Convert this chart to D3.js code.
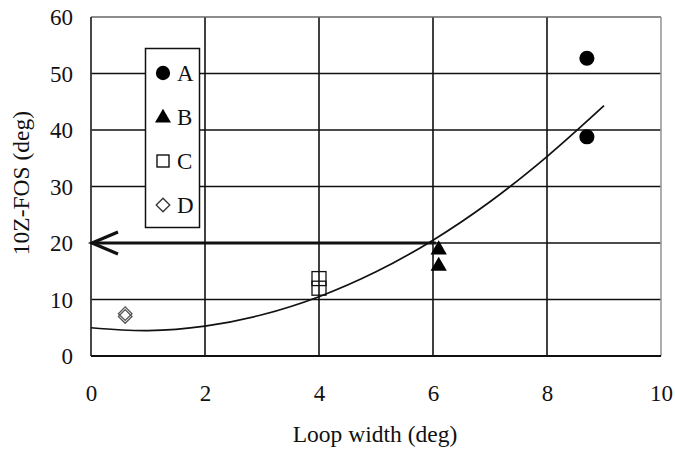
<!DOCTYPE html>
<html>
<head>
<meta charset="utf-8">
<script src="https://cdn.jsdelivr.net/npm/d3@7"></script>
<style>
  html, body { margin: 0; padding: 0; background: #fff; }
  text { font-family: "Liberation Serif", "Times New Roman", serif; fill: #111; }
</style>
</head>
<body>
<svg id="chart" width="675" height="454"></svg>
<script>
// Axis ticks
const xTicks = [0, 2, 4, 6, 8, 10];
const yTicks = [0, 10, 20, 30, 40, 50, 60];

// Measurements per group: [loop width, 10Z-FOS]
const seriesA = [[8.7, 52.7], [8.7, 38.8]];
const seriesB = [[6.1, 18.8], [6.1, 15.9]];
const seriesC = [[4.0, 13.7], [4.0, 12.0]];
const seriesD = [[0.6, 7.0], [0.6, 7.5]];

// Trend curve through the measurements
const trendPoints = [[0, 5.0], [1, 4.5], [2, 5.3], [3, 7.3], [4, 10.5], [5, 14.9], [6, 20.5], [7, 27.3], [8, 35.3], [9, 44.3]];

// Reading arrow: from the curve at 20 deg across to the axis
const arrowFrom = [6.05, 20];
const arrowTo = [0, 20];

const legendLabels = ["A", "B", "C", "D"];

const svg = d3.select("#chart");
const x = d3.scaleLinear().domain([0, 10]).range([91, 661]);
const y = d3.scaleLinear().domain([0, 60]).range([356, 17]);

const FONT = "Liberation Serif, Times New Roman, serif";

// Grid lines
svg.append("g").selectAll("line").data(xTicks.slice(1, -1)).join("line")
  .attr("x1", d => x(d)).attr("x2", d => x(d)).attr("y1", y(60)).attr("y2", y(0))
  .attr("stroke", "#111").attr("stroke-width", 1.6);
svg.append("g").selectAll("line").data(yTicks.slice(1, -1)).join("line")
  .attr("x1", x(0)).attr("x2", x(10)).attr("y1", d => y(d)).attr("y2", d => y(d))
  .attr("stroke", "#111").attr("stroke-width", 1.6);

// Frame
svg.append("line").attr("x1", x(0)).attr("x2", x(10)).attr("y1", y(60)).attr("y2", y(60))
  .attr("stroke", "#666").attr("stroke-width", 1.6);
svg.append("line").attr("x1", x(10)).attr("x2", x(10)).attr("y1", y(60)).attr("y2", y(0))
  .attr("stroke", "#999").attr("stroke-width", 1.6);
svg.append("line").attr("x1", x(0)).attr("x2", x(0)).attr("y1", y(60)).attr("y2", y(0))
  .attr("stroke", "#333").attr("stroke-width", 1.8);
svg.append("line").attr("x1", x(0)).attr("x2", x(10)).attr("y1", y(0)).attr("y2", y(0))
  .attr("stroke", "#111").attr("stroke-width", 1.8);

// Axes (labels only)
const xAxis = svg.append("g").attr("transform", `translate(0,${y(0) + 37})`)
  .call(d3.axisBottom(x).tickValues(xTicks).tickSize(0).tickPadding(0));
xAxis.select(".domain").remove();
xAxis.selectAll("text").attr("font-size", 23).attr("dy", "0.34em")
  .style("font-family", FONT).attr("fill", "#111");

const yAxis = svg.append("g").attr("transform", `translate(${x(0) - 18},0)`)
  .call(d3.axisLeft(y).tickValues(yTicks).tickSize(0).tickPadding(0));
yAxis.select(".domain").remove();
yAxis.selectAll("text").attr("font-size", 23).attr("dy", "0.34em")
  .style("font-family", FONT).attr("fill", "#111");

// Axis titles
svg.append("text").attr("x", 375).attr("y", 442).attr("text-anchor", "middle")
  .attr("font-size", 23.5).text("Loop width (deg)");
svg.append("text").attr("transform", "translate(29,183) rotate(-90)")
  .attr("text-anchor", "middle").attr("font-size", 23.5).text("10Z-FOS (deg)");

// Trend curve
svg.append("path").datum(trendPoints)
  .attr("d", d3.line().x(d => x(d[0])).y(d => y(d[1])).curve(d3.curveCatmullRom))
  .attr("fill", "none").attr("stroke", "#111").attr("stroke-width", 1.7);

// Arrow
svg.append("line").attr("x1", x(arrowFrom[0])).attr("y1", y(arrowFrom[1]))
  .attr("x2", x(arrowTo[0]) + 2).attr("y2", y(arrowTo[1]))
  .attr("stroke", "#111").attr("stroke-width", 3.2);
svg.append("path")
  .attr("d", d3.line()([[x(arrowTo[0]) + 27, y(arrowTo[1]) - 11], [x(arrowTo[0]) + 1, y(arrowTo[1])], [x(arrowTo[0]) + 27, y(arrowTo[1]) + 11]]))
  .attr("fill", "none").attr("stroke", "#111").attr("stroke-width", 3.2).attr("stroke-linejoin", "miter");

// Markers
const sym = (type, size) => d3.symbol().type(type).size(size)();
const diamond = d3.line()([[-4.8, -4.8], [4.8, -4.8], [4.8, 4.8], [-4.8, 4.8]]) + "Z";
const marks = svg.append("g");
marks.selectAll("path.a").data(seriesA).join("path").attr("class", "a")
  .attr("transform", d => `translate(${x(d[0])},${y(d[1])})`)
  .attr("d", sym(d3.symbolCircle, 180)).attr("fill", "#000");
marks.selectAll("path.b").data(seriesB).join("path").attr("class", "b")
  .attr("transform", d => `translate(${x(d[0])},${y(d[1])})`)
  .attr("d", sym(d3.symbolTriangle, 115)).attr("fill", "#000");
marks.selectAll("rect.c").data(seriesC).join("rect").attr("class", "c")
  .attr("x", d => x(d[0]) - 7).attr("y", d => y(d[1]) - 7)
  .attr("width", 14).attr("height", 14)
  .attr("fill", "none").attr("stroke", "#111").attr("stroke-width", 1.3);
marks.selectAll("path.d").data(seriesD).join("path").attr("class", "d")
  .attr("transform", d => `translate(${x(d[0])},${y(d[1])}) rotate(45)`)
  .attr("d", diamond)
  .attr("fill", "none").attr("stroke", "#555").attr("stroke-width", 1.3);

// Legend
const legend = svg.append("g");
legend.append("rect").attr("x", 145.5).attr("y", 48.5).attr("width", 54).attr("height", 179)
  .attr("fill", "#fff").attr("stroke", "#111").attr("stroke-width", 1.5);
const legY = d3.scalePoint().domain(legendLabels).range([73, 205]);
const lx = 163;
legend.append("path").attr("transform", `translate(${lx},${legY("A")})`)
  .attr("d", sym(d3.symbolCircle, 160)).attr("fill", "#000");
legend.append("path").attr("transform", `translate(${lx},${legY("B") + 1})`)
  .attr("d", sym(d3.symbolTriangle, 110)).attr("fill", "#000");
legend.append("rect").attr("x", lx - 6).attr("y", legY("C") - 6).attr("width", 12).attr("height", 12)
  .attr("fill", "none").attr("stroke", "#111").attr("stroke-width", 1.4);
legend.append("path").attr("transform", `translate(${lx},${legY("D")}) rotate(45)`)
  .attr("d", diamond)
  .attr("fill", "none").attr("stroke", "#333").attr("stroke-width", 1.3);
legend.selectAll("text.lg").data(legendLabels).join("text").attr("class", "lg")
  .attr("x", 177).attr("y", d => legY(d)).attr("dy", "0.35em")
  .attr("font-size", 23).text(d => d);
</script>
</body>
</html>
